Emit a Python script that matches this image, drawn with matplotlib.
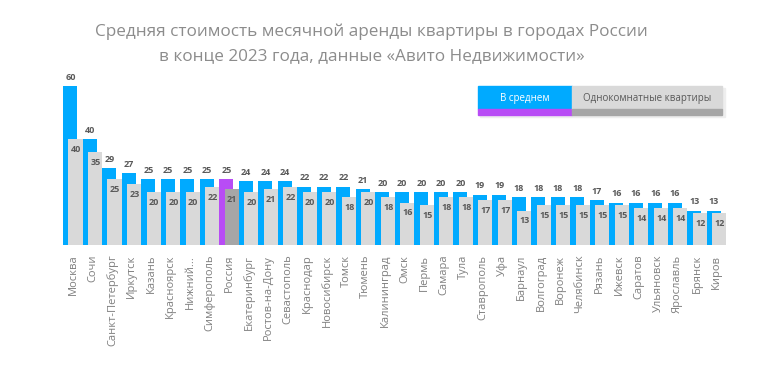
import matplotlib.pyplot as plt
import numpy as np
from matplotlib.patches import Rectangle

plt.rcParams['font.family'] = ['Open Sans', 'DejaVu Sans']

goroda = ['Москва', 'Сочи', 'Санкт-Петербург', 'Иркутск', 'Казань', 'Красноярск',
          'Нижний...', 'Симферополь', 'Россия', 'Екатеринбург', 'Ростов-на-Дону',
          'Севастополь', 'Краснодар', 'Новосибирск', 'Томск', 'Тюмень', 'Калининград',
          'Омск', 'Пермь', 'Самара', 'Тула', 'Ставрополь', 'Уфа', 'Барнаул', 'Волгоград',
          'Воронеж', 'Челябинск', 'Рязань', 'Ижевск', 'Саратов', 'Ульяновск',
          'Ярославль', 'Брянск', 'Киров']
v_srednem = [60, 40, 29, 27, 25, 25, 25, 25, 25, 24, 24, 24, 22, 22, 22, 21, 20,
             20, 20, 20, 20, 19, 19, 18, 18, 18, 18, 17, 16, 16, 16, 16, 13, 13]
odnokomnatnye = [40, 35, 25, 23, 20, 20, 20, 22, 21, 20, 21, 22, 20, 20, 18, 20, 18,
                 16, 15, 18, 18, 17, 17, 13, 15, 15, 15, 15, 15, 14, 14, 14, 12, 12]

albastru = '#00AAFF'
gri = '#D9D9D9'
mov = '#B84CF5'
gri_inchis = '#A6A6A6'

fig = plt.figure(figsize=(7.6, 3.66), dpi=100)
ax = fig.add_axes([0.0832, 0.3306, 0.8724, 0.4706])

x = np.arange(len(goroda))
culori1 = [mov if g == 'Россия' else albastru for g in goroda]
culori2 = [gri_inchis if g == 'Россия' else gri for g in goroda]
ax.bar(x - 0.13, v_srednem, width=0.72, color=culori1)
ax.bar(x + 0.13, odnokomnatnye, width=0.72, color=culori2)

for i in range(len(goroda)):
    ax.text(x[i] - 0.13, v_srednem[i] + 1.6, str(v_srednem[i]), ha='center', va='bottom',
            fontsize=6.5, fontweight='bold', color='#595959')
    ax.text(x[i] + 0.16, odnokomnatnye[i] - 2.2, str(odnokomnatnye[i]), ha='center', va='top',
            fontsize=6.5, fontweight='bold', color='#595959')

ax.set_xlim(-0.5, len(goroda) - 0.5)
ax.set_ylim(0, 65)
ax.set_xticks(x)
ax.set_xticklabels(goroda, rotation=90, fontsize=8, color='#7F7F7F')
ax.tick_params(axis='x', length=0, pad=7)
ax.set_yticks([])
for s in ax.spines.values():
    s.set_visible(False)

fig.text(0.489, 0.913, 'Средняя стоимость месячной аренды квартиры в городах России',
         ha='center', va='center', fontsize=12.3, color='#8C8C8C')
fig.text(0.489, 0.847, 'в конце 2023 года, данные «Авито Недвижимости»',
         ha='center', va='center', fontsize=12.3, color='#8C8C8C')

# legenda
W, H = 760, 366
def cutie(x0, y0, w, h, c):
    fig.patches.append(Rectangle((x0 / W, 1 - (y0 + h) / H), w / W, h / H,
                                 transform=fig.transFigure, color=c, zorder=3))
cutie(480, 88, 245, 29, '#EEEEEE')
cutie(478, 86, 94, 23, albastru)
cutie(478, 109, 94, 6, mov)
cutie(572, 86, 150, 23, gri)
cutie(572, 109, 150, 6, gri_inchis)
fig.text(525 / W, 1 - 98 / H, 'В среднем', ha='center', va='center', fontsize=7,
         color='white', zorder=4)
fig.text(647 / W, 1 - 98 / H, 'Однокомнатные квартиры', ha='center', va='center',
         fontsize=7, color='#595959', zorder=4)

fig.savefig('out.png', dpi=100, facecolor='white')
